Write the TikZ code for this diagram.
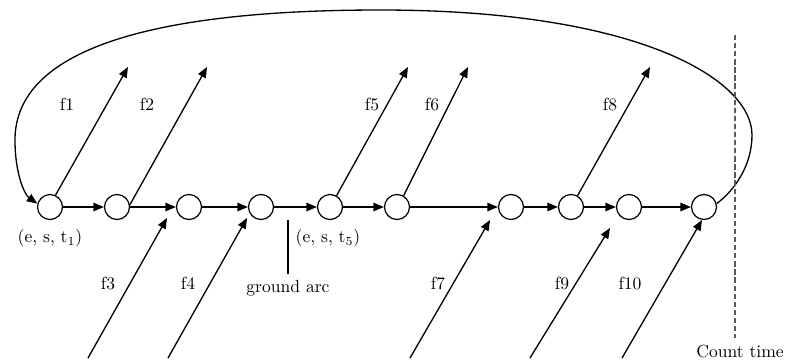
\documentclass[tikz,border=0pt]{standalone}
\usepackage{tikz}
\usetikzlibrary{arrows.meta}

\tikzset{
  event/.style={circle, draw, line width=0.7pt, minimum size=0.5cm, inner sep=0pt},
  flow/.style={line width=0.75pt, -{Triangle[length=2.1mm,width=1.7mm]}},
  lab/.style={font=\normalsize}
}

\begin{document}
\begin{tikzpicture}[x=0.02cm, y=-0.02cm, every node/.style={font=\normalsize}]
  \useasboundingbox (0,0) rectangle (787,362);

  % event nodes on the time line
  \foreach \i/\x in {1/50,2/117,3/189,4/261,5/330,6/397,7/511,8/571,9/629,10/704}
    \node[event] (n\i) at (\x,207) {};
  \foreach \a/\b in {1/2,2/3,3/4,4/5,5/6,6/7,7/8,8/9,9/10}
    \draw[flow] (n\a) -- (n\b);

  % loop back from the last node to the first
  \draw[flow] (n10.15) .. controls (735,190) and (752,165) .. (752,135)
    .. controls (752,80) and (640,10) .. (380,10)
    .. controls (150,10) and (15,50) .. (15,140)
    .. controls (15,175) and (25,195) .. (n1.165);

  % outgoing flights
  \foreach \i/\a/\x/\lx in {1/65/128/67, 2/10/207/147, 5/60/408/372, 6/60/468/432, 8/60/650/610} {
    \coordinate (out\i) at (\x,67);
    \draw[flow] (n\i.\a) -- (out\i);
    \node[lab] (lf\i) at (\lx,104) {f\i};
  }

  % incoming flights
  \foreach \i/\bx/\tx/\ty/\lx in {3/88/167/218/108, 4/168/247/218/188, 7/410/490/220/438, 9/530/610/228/562, 10/622/702/220/630} {
    \coordinate (src\i) at (\bx,358);
    \coordinate (in\i) at (\tx,\ty);
    \draw[flow] (src\i) -- (in\i);
    \node[lab] (lf\i) at (\lx,283) {f\i};
  }

  % node labels
  \node[lab] (e1) at (50,238) {(e, s, t$_1$)};
  \node[lab] (e5) at (328,238) {(e, s, t$_5$)};

  % ground arc
  \coordinate (gtop) at (288,220);
  \node[lab] (garc) at (288,288) {ground arc};
  \draw[line width=0.75pt] (gtop) -- (garc.north);

  % count time
  \coordinate (ctop) at (735,35);
  \node[lab] (count) at (740,351) {Count time};
  \draw[black!65, line width=1pt, dash pattern=on 3pt off 1.6pt] (ctop) -- (count.north -| ctop);
\end{tikzpicture}
\end{document}
